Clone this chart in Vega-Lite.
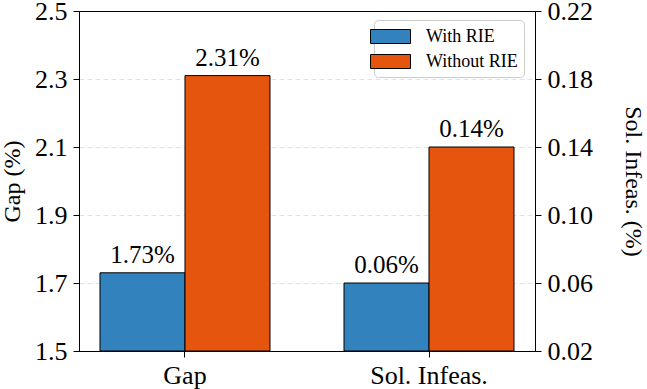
{
  "$schema": "https://vega.github.io/schema/vega-lite/v6.json",
  "width": 456,
  "height": 340,
  "autosize": {"type": "none"},
  "padding": {"left": 79, "top": 11, "right": 112, "bottom": 38},
  "background": "white",
  "config": {
    "font": "Liberation Serif",
    "view": {"stroke": "black", "strokeWidth": 1},
    "axis": {
      "domainColor": "black",
      "tickColor": "black",
      "labelColor": "black",
      "titleColor": "black",
      "labelFont": "Liberation Serif",
      "titleFont": "Liberation Serif",
      "labelFontSize": 26,
      "titleFontSize": 24,
      "titleFontWeight": "normal",
      "tickSize": 6,
      "labelPadding": 6
    },
    "legend": {
      "labelFont": "Liberation Serif",
      "labelFontSize": 18,
      "labelColor": "black"
    }
  },
  "data": {
    "values": [
      {"metric": "Gap", "method": "With RIE", "value": 1.73},
      {"metric": "Gap", "method": "Without RIE", "value": 2.31},
      {"metric": "Sol. Infeas.", "method": "With RIE", "value": 0.06},
      {"metric": "Sol. Infeas.", "method": "Without RIE", "value": 0.14}
    ]
  },
  "transform": [
    {"calculate": "format(datum.value, '.2f') + '%'", "as": "label"}
  ],
  "encoding": {
    "x": {
      "field": "metric",
      "type": "nominal",
      "scale": {"domain": ["Gap", "Sol. Infeas."], "paddingInner": 0.3033, "paddingOuter": 0.086},
      "axis": {"labelAngle": 0, "title": null, "labelPadding": 5, "grid": false}
    },
    "xOffset": {
      "field": "method",
      "type": "nominal",
      "scale": {"domain": ["With RIE", "Without RIE"], "paddingInner": 0, "paddingOuter": 0}
    }
  },
  "layer": [
    {
      "transform": [{"filter": "datum.metric === 'Gap'"}],
      "encoding": {
        "y": {
          "field": "value",
          "type": "quantitative",
          "scale": {"domain": [1.5, 2.5], "zero": false, "nice": false},
          "axis": {
            "orient": "left",
            "title": "Gap (%)",
            "values": [1.5, 1.7, 1.9, 2.1, 2.3, 2.5],
            "format": ".1f",
            "grid": true,
            "gridDash": [5, 3],
            "gridColor": "#e3e3e3",
            "gridWidth": 1,
            "gridOpacity": {"condition": {"test": "datum.value > 1.55 && datum.value < 2.45", "value": 1}, "value": 0},
            "titlePadding": 10
          }
        }
      },
      "layer": [
        {
          "mark": {"type": "bar", "stroke": "black", "strokeWidth": 1},
          "encoding": {
            "y2": {"datum": 1.5},
            "color": {
              "field": "method",
              "type": "nominal",
              "scale": {"domain": ["With RIE", "Without RIE"], "range": ["#3182bd", "#e6550d"]},
              "legend": {
                "title": null,
                "orient": "none",
                "legendX": 295,
                "legendY": 9,
                "symbolType": "M-2,-0.7H2V0.7H-2Z",
                "symbolSize": 400,
                "symbolStrokeColor": "black",
                "symbolStrokeWidth": 1,
                "symbolOpacity": 1,
                "labelOffset": 25,
                "rowPadding": 5,
                "padding": 6,
                "fillColor": "white",
                "strokeColor": "#cccccc",
                "cornerRadius": 4
              }
            }
          }
        },
        {
          "mark": {"type": "text", "baseline": "alphabetic", "dy": -10, "fontSize": 25, "font": "Liberation Serif", "color": "black"},
          "encoding": {"text": {"field": "label"}}
        }
      ]
    },
    {
      "transform": [{"filter": "datum.metric === 'Sol. Infeas.'"}],
      "encoding": {
        "y": {
          "field": "value",
          "type": "quantitative",
          "scale": {"domain": [0.02, 0.22], "zero": false, "nice": false},
          "axis": {
            "orient": "right",
            "title": "Sol. Infeas. (%)",
            "values": [0.02, 0.06, 0.1, 0.14, 0.18, 0.22],
            "format": ".2f",
            "grid": false,
            "titlePadding": 28
          }
        }
      },
      "layer": [
        {
          "mark": {"type": "bar", "stroke": "black", "strokeWidth": 1},
          "encoding": {
            "y2": {"datum": 0.02},
            "color": {
              "field": "method",
              "type": "nominal",
              "scale": {"domain": ["With RIE", "Without RIE"], "range": ["#3182bd", "#e6550d"]}
            }
          }
        },
        {
          "mark": {"type": "text", "baseline": "alphabetic", "dy": -10, "fontSize": 25, "font": "Liberation Serif", "color": "black"},
          "encoding": {"text": {"field": "label"}}
        }
      ]
    }
  ],
  "resolve": {"scale": {"y": "independent"}}
}
